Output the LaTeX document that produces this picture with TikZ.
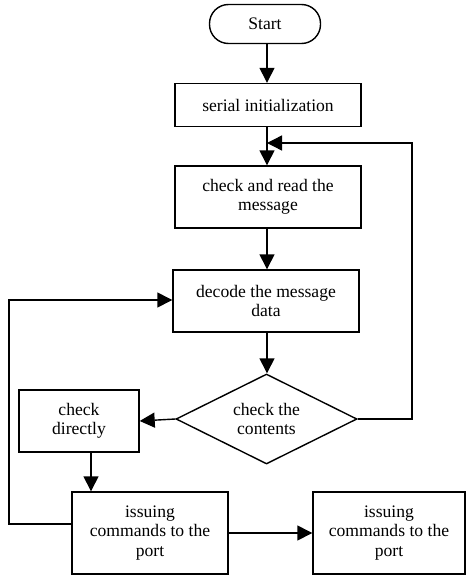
\documentclass[tikz,border=0pt]{standalone}
\usepackage{fontspec}
\setmainfont{Liberation Serif}
\usetikzlibrary{arrows.meta,shapes.geometric,calc}
\begin{document}
\begin{tikzpicture}[x=1pt,y=-1pt,
  every node/.style={font=\fontsize{17.6}{19.5}\selectfont, align=center, inner sep=2pt},
  box/.style={draw, line width=1.4pt, rectangle},
  term/.style={draw, line width=1.4pt, rectangle, rounded corners=19pt},
  dec/.style={draw, line width=1.4pt, diamond, aspect=2, inner sep=0pt},
  conn/.style={line width=1.4pt},
  arr/.style={conn, -{Triangle[length=15pt,width=15pt]}}]
\useasboundingbox (0,0) rectangle (466,575);
\node[term, minimum width=111pt, minimum height=39pt] (start) at (265,24) {Start};
\node[box, minimum width=186pt, minimum height=43pt] (init) at (268,105) {serial initialization};
\node[box, minimum width=186pt, minimum height=62pt] (read) at (268,197) {check and read the\\message};
\node[box, minimum width=186pt, minimum height=62pt] (decode) at (266,301) {decode the message\\data};
\node[dec, minimum width=181pt, minimum height=90pt] (chk) at (266.5,419) {check the\\contents};
\node[box, minimum width=120pt, minimum height=62pt] (cd) at (79,421) {check\\directly};
\node[box, minimum width=156pt, minimum height=82pt] (iss1) at (150,533) {issuing\\commands to the\\port};
\node[box, minimum width=152pt, minimum height=82pt] (iss2) at (389,533) {issuing\\commands to the\\port};
\coordinate (loopR) at (412,143);
\coordinate (loopL) at (9,300);
\coordinate (cdout) at (91,452);
% main flow
\draw[arr] (start.south -| 267,0) -- (init.north -| 267,0);
\draw[arr] (init.south -| 267,0) -- (read.north -| 267,0);
\draw[arr] (read.south -| 267,0) -- (decode.north -| 267,0);
\draw[arr] (decode.south -| 267,0) -- (chk.north -| 267,0);
\draw[arr] (chk.west) -- (cd.east);
\draw[arr] (cdout) -- (cdout |- iss1.north);
\draw[arr] (iss1.east) -- (iss2.west);
% feedback loops
\draw[arr] (chk.east) -- (chk.east -| loopR) -- (loopR) -- (loopR -| 267,0);
\draw[arr] (iss1.west |- 0,524) -- (loopL |- 0,524) -- (loopL) -- (decode.west |- loopL);
\end{tikzpicture}
\end{document}
